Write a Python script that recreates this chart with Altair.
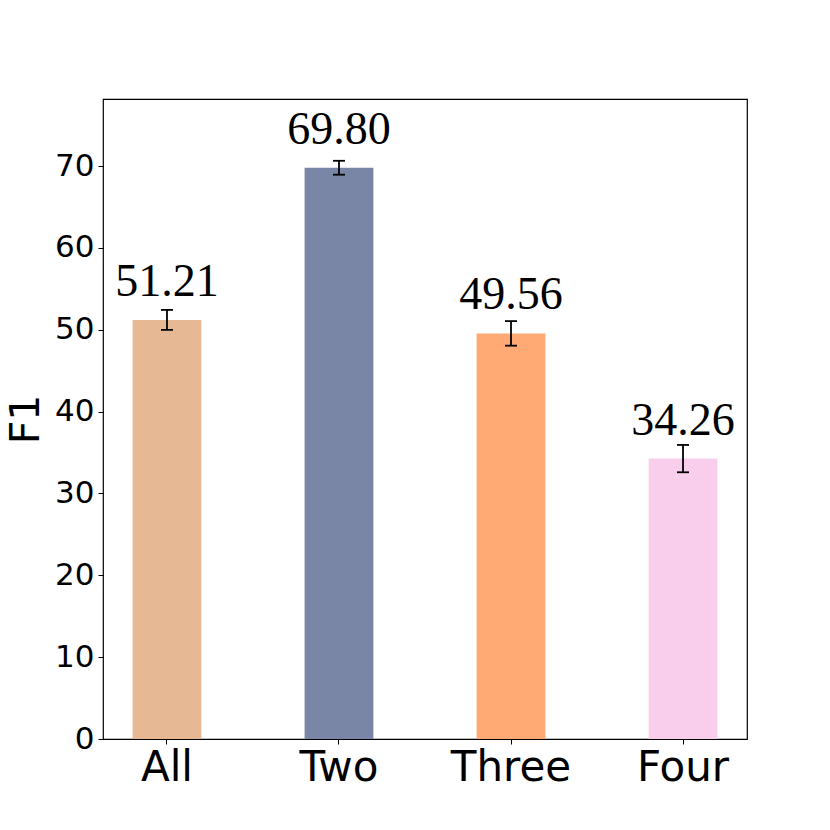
import altair as alt
import pandas as pd

categories = ["All", "Two", "Three", "Four"]
values = [51.21, 69.80, 49.56, 34.26]
errors = [1.22, 0.85, 1.5, 1.67]
colors = ["#E6B994", "#7A86A6", "#FFAA74", "#F8CEEC"]
labels = ["51.21", "69.80", "49.56", "34.26"]

df = pd.DataFrame({
    "cat": categories,
    "val": values,
    "err": errors,
    "label": labels,
})
df["lo"] = df["val"] - df["err"]
df["hi"] = df["val"] + df["err"]

xscale = alt.Scale(domain=categories, paddingInner=0.6, paddingOuter=0.172)
yscale = alt.Scale(domain=[0, 78.2], nice=False, zero=True)

x = alt.X("cat:N", scale=xscale, sort=categories, title=None,
          axis=alt.Axis(labelAngle=0, labelFont="DejaVu Sans", labelFontSize=42,
                        labelColor="black", tickColor="black", tickSize=5,
                        domain=False, labelPadding=3))

base = alt.Chart(df)

bars = base.mark_bar().encode(
    x=x,
    y=alt.Y("val:Q", scale=yscale, title="F1",
            axis=alt.Axis(values=[0, 10, 20, 30, 40, 50, 60, 70], grid=False,
                          labelFont="DejaVu Sans", labelFontSize=31, labelColor="black",
                          tickColor="black", tickSize=5, domain=False,
                          titleFont="DejaVu Sans", titleFontSize=41, titleFontWeight="normal",
                          titleColor="black", titlePadding=7, labelPadding=4)),
    color=alt.Color("cat:N", scale=alt.Scale(domain=categories, range=colors), legend=None),
)

rules = base.mark_rule(color="black", strokeWidth=1.8).encode(
    x=alt.X("cat:N", scale=xscale, sort=categories),
    y=alt.Y("lo:Q", scale=yscale),
    y2="hi:Q",
)

caps_top = base.mark_tick(color="black", thickness=1.8, size=12, opacity=1, orient="horizontal").encode(
    x=alt.X("cat:N", scale=xscale, sort=categories),
    y=alt.Y("hi:Q", scale=yscale),
)
caps_bot = base.mark_tick(color="black", thickness=1.8, size=12, opacity=1, orient="horizontal").encode(
    x=alt.X("cat:N", scale=xscale, sort=categories),
    y=alt.Y("lo:Q", scale=yscale),
)

text = base.mark_text(font="Liberation Serif", fontSize=46, color="black",
                      baseline="alphabetic", dy=-24).encode(
    x=alt.X("cat:N", scale=xscale, sort=categories),
    y=alt.Y("val:Q", scale=yscale),
    text="label:N",
)

chart = alt.layer(bars, rules, caps_top, caps_bot, text).properties(
    width=644, height=640,
    background="white",
    autosize=alt.AutoSizeParams(type="none"),
    padding={"left": 95, "top": 91, "right": 70, "bottom": 75},
).configure_view(stroke="black", strokeWidth=1.2)

chart.save("out.html", embed_options={"renderer": "svg", "actions": False})
